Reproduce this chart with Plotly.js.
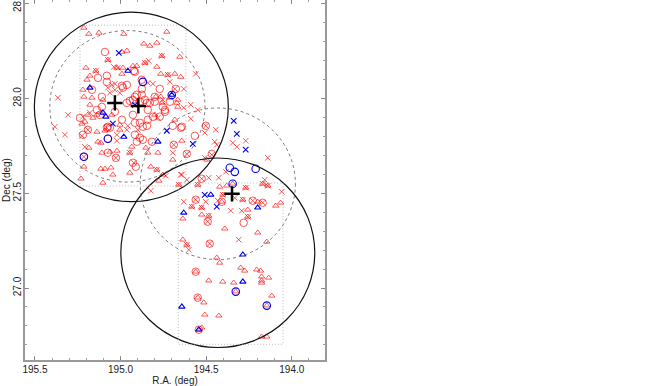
<!DOCTYPE html>
<html><head><meta charset="utf-8">
<script src="https://cdn.plot.ly/plotly-3.0.1.min.js"></script>
<style>html,body{margin:0;padding:0;background:#fff}#c{width:667px;height:386px}</style>
</head><body><div id="c"></div>
<script>
const triRA=[195.214,195.185,195.126,194.981,194.730,194.992,194.963,194.864,194.829,194.788,195.202,194.928,194.905,194.992,194.765,194.683,195.220,195.196,195.179,194.654,194.648,194.858,194.759,195.144,195.074,195.021,194.986,194.788,194.724,194.666,194.671,194.683,194.794,194.765,194.759,194.712,194.666,194.800,195.214,195.167,195.179,195.191,195.138,195.161,195.208,195.226,195.004,195.138,195.091,195.004,195.132,195.115,195.185,195.109,195.062,195.021,194.946,194.934,194.852,194.841,194.782,195.214,195.115,195.091,195.056,195.045,194.946,195.231,195.103,194.823,194.788,194.753,194.776,194.642,194.695,194.496,194.660,194.549,194.421,194.380,194.269,194.170,194.140,194.403,194.286,194.199,194.094,194.065,194.345,194.584,194.526,194.257,194.526,194.485,194.636,194.257,194.391,194.199,194.146,194.636,194.613,194.438,194.421,194.561,194.298,194.275,194.205,194.182,194.176,194.135,194.176,194.176,194.485,194.403,194.339,194.327,194.117,194.549,194.514,194.146,194.508,194.426,194.526,194.543,194.176,194.146,194.409,195.051,195.103];
const triDec=[28.373,28.341,28.347,28.341,28.352,28.246,28.252,28.289,28.278,28.294,28.162,28.172,28.172,28.130,28.130,28.130,28.046,28.099,28.120,28.220,28.114,28.188,28.225,28.146,28.204,28.162,28.162,28.167,28.125,27.956,27.977,27.888,28.009,28.009,27.977,28.004,27.993,27.914,28.009,28.004,27.967,27.914,27.914,27.898,27.877,27.867,27.861,27.824,27.830,27.835,27.772,27.766,27.740,27.714,27.719,27.724,27.714,27.745,27.740,27.714,27.714,27.640,27.629,27.629,27.635,27.598,27.608,27.577,27.555,27.640,27.624,27.598,27.566,27.777,27.677,27.677,27.545,27.545,27.534,27.540,27.529,27.550,27.540,27.492,27.466,27.455,27.434,27.450,27.550,27.429,27.424,27.413,27.387,27.381,27.366,27.376,27.313,27.292,27.244,27.255,27.228,27.160,27.133,27.086,27.107,27.091,27.097,27.091,27.060,27.054,27.039,27.028,27.039,27.033,27.028,26.981,26.959,26.949,26.923,26.907,26.859,26.854,26.791,26.780,26.743,26.743,27.455,27.914,27.993];
const xRA=[195.366,195.307,195.383,195.325,194.835,195.039,195.016,194.858,194.759,194.724,195.144,195.074,194.561,194.631,194.683,194.590,194.549,194.590,194.631,194.712,194.841,194.811,195.051,195.033,195.074,195.033,195.062,195.004,195.179,195.220,194.899,194.957,194.753,194.782,194.736,194.648,194.613,194.823,194.788,194.946,195.208,195.226,195.191,195.080,195.021,195.021,194.963,195.214,195.027,194.922,194.444,194.508,194.450,194.438,194.689,194.613,194.269,194.345,194.321,194.140,194.695,194.467,194.508,194.385,194.158,194.642,194.526,194.485,194.426,194.549,194.660,194.269,194.170,194.140,194.059,194.403,194.333,194.631,194.561,194.584,194.502,194.432,194.286,194.228,194.170,194.526,194.356,194.292,194.485,194.257,194.491,194.310,194.613,194.601,194.479,194.502];
const xDec=[28.004,27.914,27.851,27.809,28.199,28.167,28.162,28.188,28.225,28.125,28.146,28.204,28.130,28.051,28.051,27.967,27.940,27.893,27.951,28.088,28.083,28.078,28.072,28.078,28.057,28.046,28.030,28.030,27.925,27.904,27.835,27.856,27.993,27.898,27.592,27.598,27.571,27.513,27.624,27.714,27.745,27.803,27.835,27.846,27.809,27.777,27.835,27.693,27.687,27.661,27.835,27.819,27.772,27.756,27.756,27.708,27.777,27.766,27.745,27.687,27.714,27.703,27.687,27.613,27.571,27.598,27.577,27.582,27.582,27.545,27.545,27.529,27.550,27.540,27.508,27.492,27.476,27.455,27.466,27.429,27.455,27.461,27.466,27.461,27.450,27.424,27.408,27.408,27.381,27.376,27.350,27.255,27.228,27.202,27.234,27.856];
const cirRA=[195.091,194.922,195.132,195.080,195.080,194.992,194.876,194.771,195.167,195.109,194.963,194.963,194.986,194.916,194.876,194.876,194.905,194.928,194.946,194.887,194.858,194.846,194.829,194.800,194.841,194.741,194.916,194.800,194.753,194.741,194.811,194.771,195.109,195.138,195.121,195.033,194.928,194.887,194.870,194.841,194.916,195.074,195.237,195.191,195.220,195.080,194.846,194.916,194.887,194.905,194.870,194.817,194.695,194.642,194.502,194.566,194.689,194.613,194.467,194.677,194.928,194.911,195.074,195.027,195.074,195.214,194.526,194.561,194.228,194.170,194.409,194.491,194.281,194.479,194.561,194.549,194.543,194.648,195.062,194.992,194.712];
const cirDec=[28.246,28.146,28.109,28.120,28.088,28.067,28.099,28.051,28.046,28.009,27.977,28.072,28.057,28.141,28.051,28.020,28.020,27.993,27.988,27.983,27.993,27.977,27.977,27.983,27.940,27.940,28.009,28.009,27.956,27.930,27.904,27.904,27.956,27.940,27.914,27.930,27.914,27.872,27.851,27.888,27.872,27.851,27.898,27.835,27.809,27.846,27.856,27.809,27.793,27.772,27.782,27.772,27.856,27.851,27.856,27.803,27.756,27.708,27.708,28.051,27.661,27.640,27.714,27.687,27.788,27.693,27.577,27.466,27.461,27.450,27.455,27.350,27.344,27.234,27.086,26.949,26.780,27.846,27.846,27.888,27.983];
const bxRA=[195.010,194.916,195.045,194.730,194.578,194.339,194.321,194.269,194.508,194.438];
const bxDec=[28.241,27.967,27.867,27.830,27.761,27.882,27.814,27.730,27.492,27.429];
const btRA=[194.957,195.179,194.701,195.103,195.086,194.981,194.782,194.473,194.631,194.199,194.286,194.286,194.642,194.543];
const btDec=[28.146,28.057,28.019,27.925,27.904,27.798,27.772,27.492,27.397,27.424,27.176,27.033,26.901,26.780];
const bcRA=[194.870,194.701,195.074,195.214,194.362,194.333,194.211,194.345,194.327,194.146];
const bcDec=[28.088,28.019,27.788,27.693,27.635,27.613,27.629,27.550,26.981,26.907];
const crossRA=[195.033,194.896,194.349];
const crossDec=[27.977,27.961,27.497];
const solidCenters=[[194.937,27.956],[194.432,27.186]];
const dashedCenters=[[194.960,27.959],[194.432,27.550]];
const solidRadius=0.5, dashedRadius=0.4, cosDec=0.8829;
const fields=[[195.237,194.618,28.387,27.538],[194.663,194.051,27.554,26.703]];
const xTicks=[195.5,195.0,194.5,194.0];
const yTicks=[27.0,27.5,28.0,28.5];

const RED='#ff0000', BLUE='#0000ee';
function tr(x,y,sym,size,color,w,op){return {x:x,y:y,mode:'markers',type:'scatter',hoverinfo:'skip',showlegend:false,
  marker:{symbol:sym,size:size,color:color,opacity:op||1,line:{color:color,width:w}}};}
const data=[
 tr(triRA,triDec,'triangle-up-open',5.5,RED,0.65),
 tr(xRA,xDec,'x-thin-open',5.5,RED,0.65),
 tr(cirRA,cirDec,'circle-open',7.5,RED,0.65),
 tr(bxRA,bxDec,'x-thin-open',5.5,BLUE,1.1),
 tr(btRA,btDec,'triangle-up-open',5.5,BLUE,1.1),
 tr(bcRA,bcDec,'circle-open',7.5,BLUE,1.1),
 tr(crossRA,crossDec,'cross-thin-open',11,'#000',2.5)
];
const shapes=[];
function circ(c,r,dash,w,col){shapes.push({type:'circle',xref:'x',yref:'y',x0:c[0]-r/cosDec,x1:c[0]+r/cosDec,y0:c[1]-r,y1:c[1]+r,line:{color:col,width:w,dash:dash}});}
solidCenters.forEach(c=>circ(c,solidRadius,'solid',1.2,'#111'));
dashedCenters.forEach(c=>circ(c,dashedRadius,'3px,3px',0.8,'#555'));
fields.forEach(f=>shapes.push({type:'rect',xref:'x',yref:'y',x0:f[0],x1:f[1],y0:f[2],y1:f[3],line:{color:'#aaa',width:0.8,dash:'1px,2px'}}));
const font={family:'"Liberation Sans",Helvetica,Arial,sans-serif',size:10,color:'#222'};
const ax={showgrid:false,zeroline:false,showline:true,linecolor:'#999',linewidth:2,mirror:'ticks',ticks:'inside',ticklen:4,tickcolor:'#777',tickwidth:0.8,tickformat:'.1f',tickfont:font,tickmode:'array',ticklabeloverflow:'allow',
  minor:{dtick:0.1,ticks:'inside',ticklen:2,tickcolor:'#777',tickwidth:0.7,showgrid:false}};
const layout={width:667,height:386,margin:{l:25,r:342,t:0,b:26},paper_bgcolor:'#fff',plot_bgcolor:'#fff',showlegend:false,shapes:shapes,font:font,
 xaxis:Object.assign({},ax,{range:[195.558,193.806],tickvals:xTicks,ticklabelstandoff:-1,title:{text:'R.A. (deg)',font:font,standoff:1}}),
 yaxis:Object.assign({},ax,{range:[26.62,28.52],tickvals:yTicks,tickangle:-90,ticklabelstandoff:-2,title:{text:'Dec (deg)',font:font,standoff:0}})};
Plotly.newPlot('c',data,layout,{staticPlot:true,displayModeBar:false});
</script></body></html>
